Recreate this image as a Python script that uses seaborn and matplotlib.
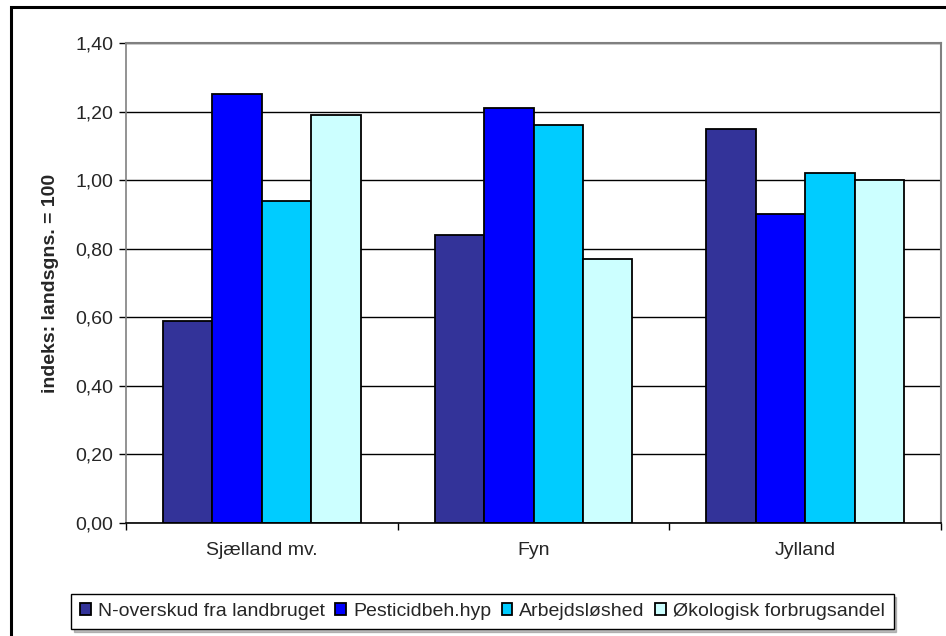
import matplotlib
matplotlib.use("Agg")
import matplotlib.pyplot as plt
import matplotlib.ticker as mticker
from matplotlib.patches import Rectangle
import seaborn as sns
import pandas as pd

regions = ["Sjælland mv.", "Fyn", "Jylland"]
series = ["N-overskud fra landbruget", "Pesticidbeh.hyp", "Arbejdsløshed", "Økologisk forbrugsandel"]
n_overskud = [0.59, 0.84, 1.15]
pesticid = [1.25, 1.21, 0.90]
arbejdsloeshed = [0.94, 1.16, 1.02]
oekologisk = [1.19, 0.77, 1.00]
colors = ["#333399", "#0000FF", "#00CCFF", "#CCFFFF"]
y_ticks = [0.0, 0.2, 0.4, 0.6, 0.8, 1.0, 1.2, 1.4]

rows = []
for name, vals in zip(series, [n_overskud, pesticid, arbejdsloeshed, oekologisk]):
    for reg, v in zip(regions, vals):
        rows.append({"region": reg, "serie": name, "værdi": v})
df = pd.DataFrame(rows)

sns.set_style("white")
plt.rcParams["font.family"] = ["Liberation Sans", "DejaVu Sans"]
FS = 14

fig = plt.figure(figsize=(9.46, 6.36), dpi=100)
ax = fig.add_axes([126 / 946, 1 - 523 / 636, 815 / 946, 480 / 636])

sns.barplot(data=df, x="region", y="værdi", hue="serie", order=regions,
            hue_order=series, palette=colors, width=4 / 5.5, gap=0,
            edgecolor="black", linewidth=1.3, saturation=1, ax=ax, legend=True)

ax.set_xlim(-0.5, 2.5)
ax.set_ylim(0, 1.4)
ax.set_yticks(y_ticks)
ax.yaxis.set_major_formatter(mticker.FuncFormatter(lambda v, p: f"{v:.2f}".replace(".", ",")))
ax.set_xlabel("")
ax.set_ylabel("indeks: landsgns. = 100", fontsize=FS, fontweight="bold", labelpad=12)
ax.grid(axis="y", color="black", linewidth=1)
ax.set_axisbelow(True)

ax.tick_params(axis="y", direction="out", length=5, width=1, color="black",
               labelsize=FS, left=True, pad=4)
ax.tick_params(axis="x", which="major", length=0, labelsize=FS, pad=14)
ax.set_xticks([-0.5, 0.5, 1.5, 2.5], minor=True)
ax.tick_params(axis="x", which="minor", direction="out", length=5, width=1,
               color="black", bottom=True)

for side in ["top", "right"]:
    ax.spines[side].set_color("#808080")
    ax.spines[side].set_linewidth(1.5)
ax.spines["left"].set_color("#808080")
ax.spines["left"].set_linewidth(1.2)
ax.spines["bottom"].set_color("black")
ax.spines["bottom"].set_linewidth(1.2)

handles, labels = ax.get_legend_handles_labels()
ax.get_legend().remove()
leg = fig.legend(handles, labels, loc="center", bbox_to_anchor=(482.5 / 946, 1 - 611.5 / 636),
                 ncol=4, fontsize=FS, frameon=True, fancybox=False,
                 edgecolor="black", framealpha=1, handlelength=0.55, handleheight=0.55,
                 handletextpad=0.35, columnspacing=0.55, borderpad=0.45,
                 shadow={"color": "#808080"})
leg.get_frame().set_linewidth(1)

# outer frame of the chart
fig.patches.append(Rectangle((11 / 946, -0.05), 1.0, 1.05 - 7 / 636,
                             transform=fig.transFigure, fill=False,
                             edgecolor="black", linewidth=2.2))

fig.savefig("out.png", dpi=100)
